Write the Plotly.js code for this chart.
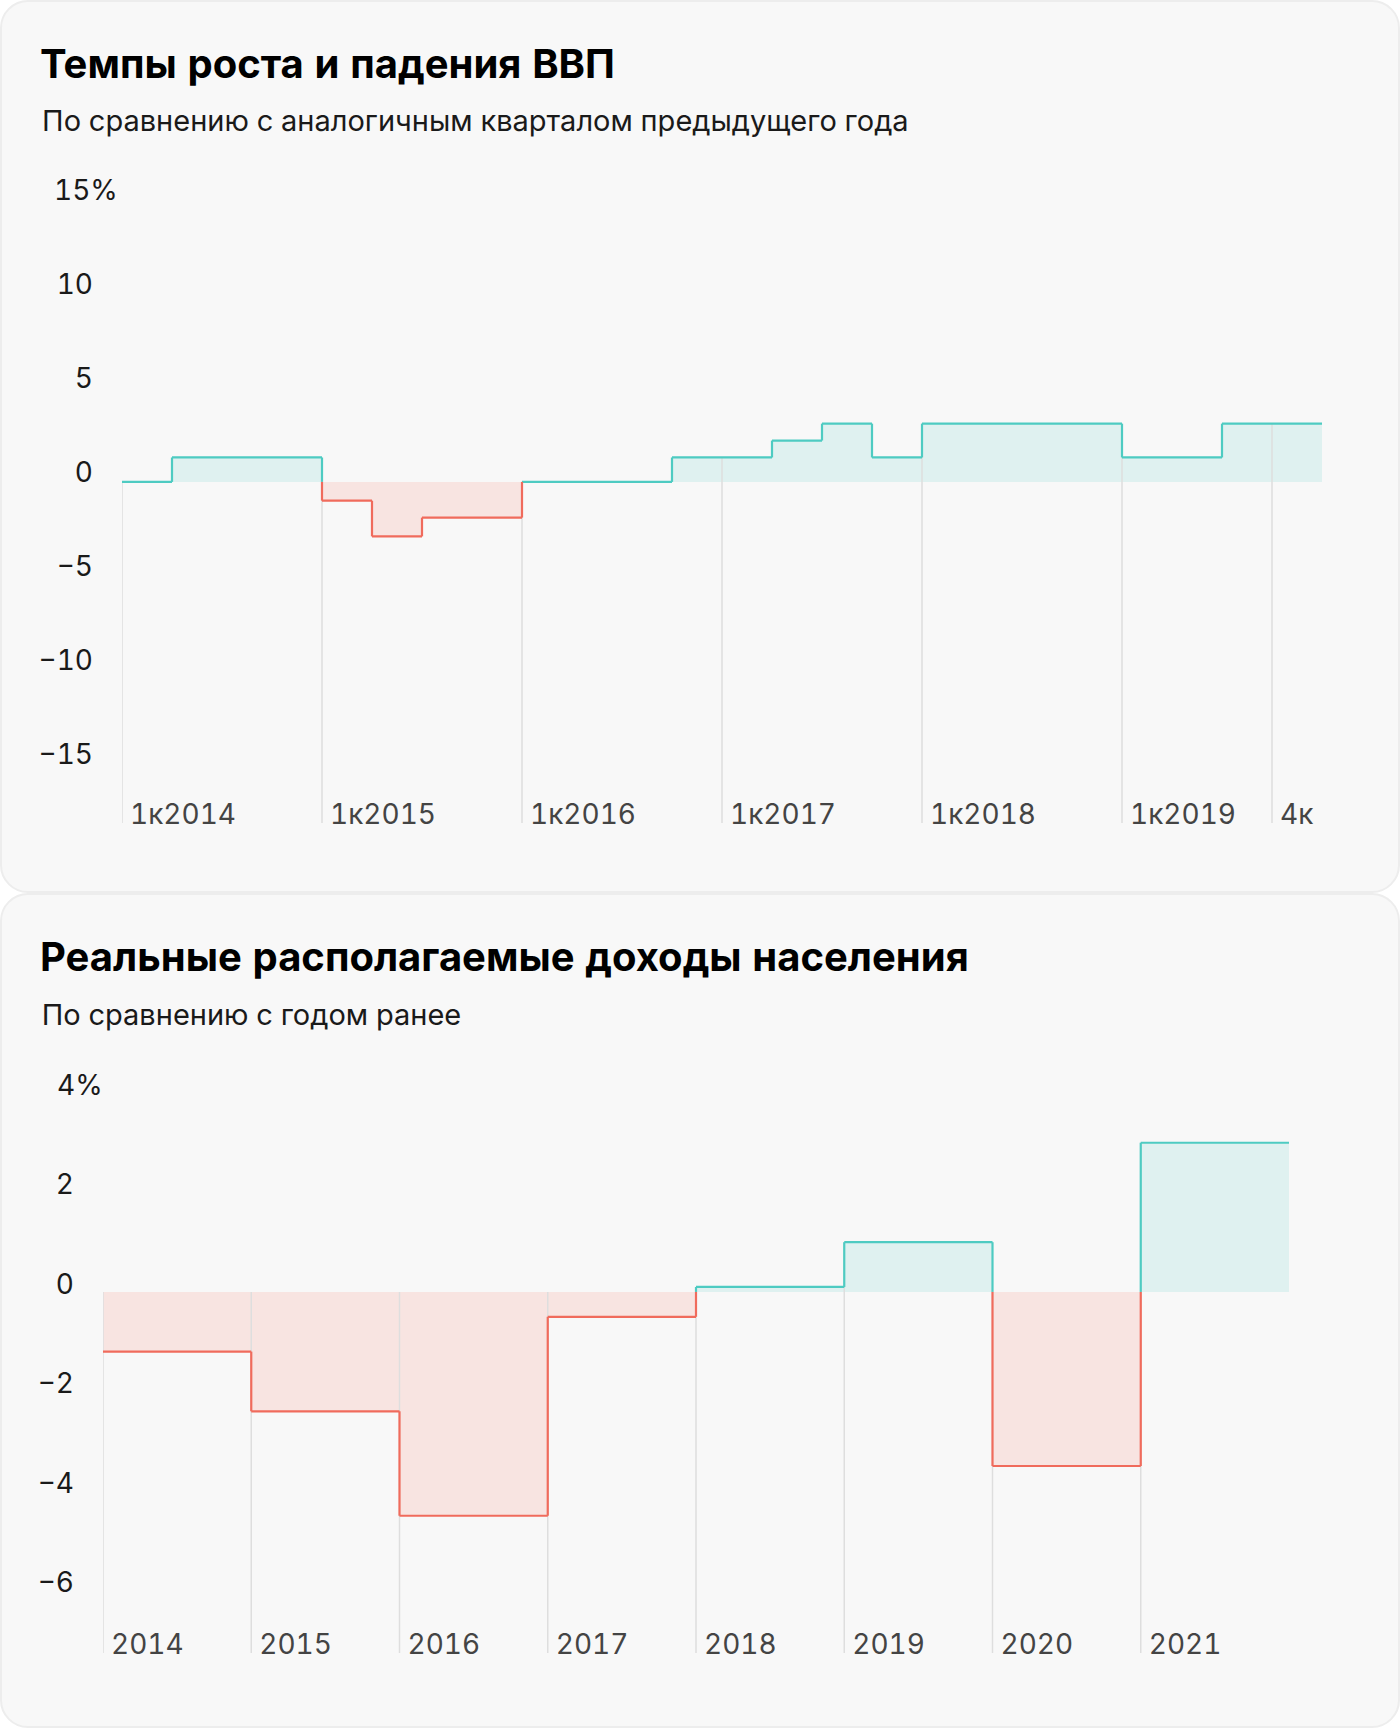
<!DOCTYPE html>
<html>
<head>
<meta charset="utf-8">
<script src="https://cdn.plot.ly/plotly-3.0.1.min.js"></script>
<style>
  html, body { margin: 0; padding: 0; background: #ffffff; }
  .card { position: absolute; left: 0; width: 1400px; box-sizing: border-box;
          background: #f8f8f8; border: 2px solid #ededed; border-radius: 28px; }
  .plot { position: absolute; left: 0; width: 1400px; }
  .plot text { font-feature-settings: "tnum" 1; }
</style>
</head>
<body>
<div class="card" style="top:0;height:893px"></div>
<div class="card" style="top:893px;height:835px"></div>
<div id="gdp" class="plot" style="top:0;height:893px"></div>
<div id="inc" class="plot" style="top:893px;height:835px"></div>
<script>
// ---------- DATA ----------
const gdpTitle = 'Темпы роста и падения ВВП';
const gdpSubtitle = 'По сравнению с аналогичным кварталом предыдущего года';
const gdpQuarters = [
  '1к2014','2к2014','3к2014','4к2014',
  '1к2015','2к2015','3к2015','4к2015',
  '1к2016','2к2016','3к2016','4к2016',
  '1к2017','2к2017','3к2017','4к2017',
  '1к2018','2к2018','3к2018','4к2018',
  '1к2019','2к2019','3к2019','4к2019'
];
const gdpValues = [
  0, 1.3, 1.3, 1.3,
  -1.0, -2.9, -1.9, -1.9,
  0, 0, 0, 1.3,
  1.3, 2.2, 3.1, 1.3,
  3.1, 3.1, 3.1, 3.1,
  1.3, 1.3, 3.1, 3.1
];
const gdpTickQuarters = ['1к2014','1к2015','1к2016','1к2017','1к2018','1к2019','4к2019'];
const gdpTickLabels   = ['1к2014','1к2015','1к2016','1к2017','1к2018','1к2019','4к'];
const gdpYTicks  = [-15, -10, -5, 0, 5, 10, 15];
const gdpYLabels = ['−15', '−10', '−5', '0', '5', '10', '15%'];

const incTitle = 'Реальные располагаемые доходы населения';
const incSubtitle = 'По сравнению с годом ранее';
const incYears  = ['2014','2015','2016','2017','2018','2019','2020','2021'];
const incValues = [-1.2, -2.4, -4.5, -0.5, 0.1, 1.0, -3.5, 3.0];
const incYTicks  = [-6, -4, -2, 0, 2, 4];
const incYLabels = ['−6', '−4', '−2', '0', '2', '4%'];

// ---------- STYLE ----------
const POS_LINE = '#4ecbc2', POS_FILL = '#dff1f0';
const NEG_LINE = '#f06b5c', NEG_FILL = '#f8e4e1';
const GRID = '#dedede';
const FONT = 'Inter, Roboto, "Noto Sans", sans-serif';
const TICK_SIZE = 28;

function build(divId, cfg) {
  const n = cfg.values.length;
  const edges = [];
  for (let i = 0; i <= n; i++) edges.push(i);
  const posY = cfg.values.map(v => Math.max(v, 0)); posY.push(posY[n - 1]);
  const negY = cfg.values.map(v => Math.min(v, 0)); negY.push(negY[n - 1]);

  // step outline split by sign
  const px = [], py = [], nx = [], ny = [];
  for (let i = 0; i < n; i++) {
    const v = cfg.values[i];
    if (v >= 0) { px.push(i, i + 1, null); py.push(v, v, null); }
    else { nx.push(i, i + 1, null); ny.push(v, v, null); }
    if (i < n - 1) {
      const a = v, b = cfg.values[i + 1];
      const hi = Math.max(a, b), lo = Math.min(a, b);
      if (hi > 0) { px.push(i + 1, i + 1, null); py.push(Math.max(lo, 0), hi, null); }
      if (lo < 0) { nx.push(i + 1, i + 1, null); ny.push(Math.min(hi, 0), lo, null); }
    }
  }
  // drop lines at labelled periods
  const gx = [], gy = [];
  cfg.tickIdx.forEach(t => { gx.push(t, t, null); gy.push(Math.max(cfg.values[t], 0), cfg.yRange[0], null); });

  const traces = [
    { x: edges, y: posY, mode: 'lines', line: { shape: 'hv', width: 0, color: POS_FILL }, fill: 'tozeroy', fillcolor: POS_FILL, hoverinfo: 'skip' },
    { x: edges, y: negY, mode: 'lines', line: { shape: 'hv', width: 0, color: NEG_FILL }, fill: 'tozeroy', fillcolor: NEG_FILL, hoverinfo: 'skip' },
    { x: gx, y: gy, mode: 'lines', line: { color: GRID, width: 1.5 }, hoverinfo: 'skip' },
    { x: px, y: py, mode: 'lines', line: { color: POS_LINE, width: 2.2 }, hoverinfo: 'skip' },
    { x: nx, y: ny, mode: 'lines', line: { color: NEG_LINE, width: 2.2 }, hoverinfo: 'skip' }
  ];

  const W = 1400, H = cfg.height, m = cfg.margin;
  const pw = W - m.l - m.r, ph = H - m.t - m.b;
  const toX = p => (p - m.l) / pw;
  const toY = p => (H - m.b - p) / ph;

  const yText = cfg.yLabels.slice(0, -1).concat(['']);
  const layout = {
    width: W, height: H,
    paper_bgcolor: 'rgba(0,0,0,0)', plot_bgcolor: 'rgba(0,0,0,0)',
    margin: m, showlegend: false, hovermode: false,
    font: { family: FONT, size: TICK_SIZE, color: '#1a1a1a' },
    title: { text: cfg.title, xref: 'container', yref: 'container', x: 40 / W, xanchor: 'left',
             y: 1 - 64 / H, yanchor: 'middle', font: { family: FONT, size: 40, weight: 700, color: '#000' } },
    xaxis: { range: [0, n], showgrid: false, zeroline: false, showline: false, ticks: '',
             tickvals: cfg.tickIdx, ticktext: cfg.tickLabels,
             ticklabelposition: 'inside right', ticklabeloverflow: 'allow',
             ticklabelshift: 8, ticklabelstandoff: -13, fixedrange: true },
    yaxis: { range: cfg.yRange, showgrid: false, zeroline: false, showline: false, ticks: '',
             tickvals: cfg.yTicks, ticktext: yText, ticklabelstandoff: 28, ticklabelshift: -cfg.labelLift, fixedrange: true },
    annotations: [
      { text: cfg.subtitle, xref: 'paper', yref: 'paper', x: toX(39), y: toY(121), xanchor: 'left', yanchor: 'middle',
        showarrow: false, font: { family: FONT, size: 29, color: '#1a1a1a' } },
      { text: cfg.yLabels[cfg.yLabels.length - 1], xref: 'paper', yref: 'y', x: toX(cfg.pctLeft), y: cfg.yTicks[cfg.yTicks.length - 1],
        xanchor: 'left', yanchor: 'middle', yshift: cfg.labelLift, showarrow: false, font: { family: FONT, size: TICK_SIZE, color: '#1a1a1a' } }
    ]
  };
  Plotly.newPlot(divId, traces, layout, { staticPlot: true, displayModeBar: false });
}

build('gdp', {
  title: gdpTitle, subtitle: gdpSubtitle, values: gdpValues,
  tickIdx: gdpTickQuarters.map(q => gdpQuarters.indexOf(q)), tickLabels: gdpTickLabels,
  yTicks: gdpYTicks, yLabels: gdpYLabels, yRange: [-18.15, 15],
  height: 893, margin: { l: 122, r: 78, t: 200, b: 70 }, pctLeft: 56, labelLift: 10
});
build('inc', {
  title: incTitle, subtitle: incSubtitle, values: incValues,
  tickIdx: incYears.map((y, i) => i), tickLabels: incYears,
  yTicks: incYTicks, yLabels: incYLabels, yRange: [-7.26, 4],
  height: 835, margin: { l: 103, r: 111, t: 200, b: 75 }, pctLeft: 55, labelLift: 8
});
</script>
</body>
</html>
